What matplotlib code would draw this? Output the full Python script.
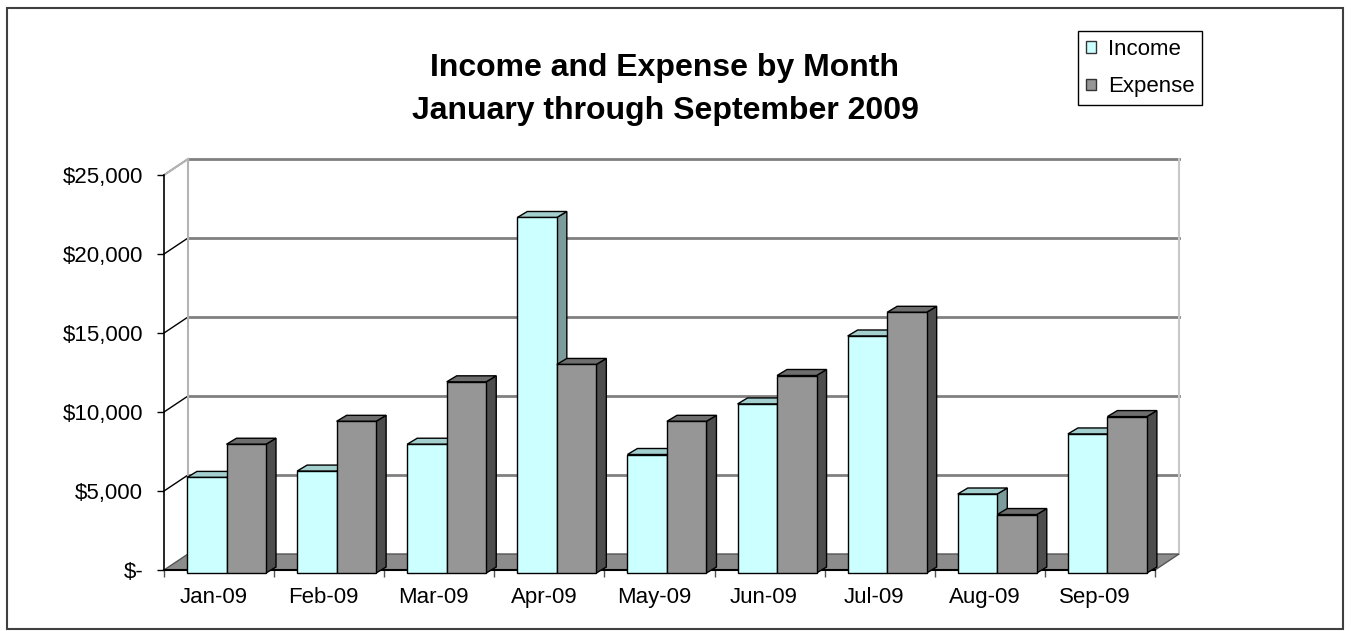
import numpy as np
import matplotlib
matplotlib.use("Agg")
import matplotlib.pyplot as plt
from matplotlib.patches import Polygon, Rectangle, Patch

months = ["Jan-09", "Feb-09", "Mar-09", "Apr-09", "May-09", "Jun-09", "Jul-09", "Aug-09", "Sep-09"]
income = [6050, 6450, 8150, 22500, 7500, 10700, 15000, 5000, 8800]
expense = [8150, 9600, 12100, 13200, 9600, 12500, 16500, 3700, 9900]
yticks = [0, 5000, 10000, 15000, 20000, 25000]
ytick_labels = ["$-", "$5,000", "$10,000", "$15,000", "$20,000", "$25,000"]
series_names = ["Income", "Expense"]

# colours: front face, top, side
inc_cols = ("#CCFFFF", "#A3CFCF", "#7C9C9C")
exp_cols = ("#969696", "#6E6E6E", "#4D4D4D")

plt.rcParams['font.family'] = ['Liberation Sans', 'DejaVu Sans']

W, H = 1351, 631
fig = plt.figure(figsize=(W / 100, H / 100), dpi=100)

# front plane of the plot in pixels
x0, x1 = 164, 1155
y0, y1 = 570, 175
ax = fig.add_axes([x0 / W, 1 - y0 / H, (x1 - x0) / W, (y0 - y1) / H])
n = len(months)
ymax = 25000
ax.set_xlim(0, n)
ax.set_ylim(0, ymax)

px_x = (x1 - x0) / n          # pixels per category
px_y = (y0 - y1) / ymax       # pixels per unit

# depth of the walls and of the bars, in data units
wdx, wdy = 24 / px_x, 16 / px_y
bdx, bdy = 10 / px_x, 6 / px_y
boff = 23 / px_x              # bar start inside a category
bw = 39.5 / px_x              # bar width
bbase = -3 / px_y             # bars sit a little behind the front edge

# back wall gridlines + side wall lines
for v in yticks[1:]:
    ax.plot([wdx, n + wdx], [v + wdy, v + wdy], color="#808080", lw=2, clip_on=False, zorder=1)
    ax.plot([0, wdx], [v, v + wdy], color="black", lw=1, clip_on=False, zorder=1)
ax.plot([wdx, wdx], [wdy, ymax + wdy], color="#B4B4B4", lw=1.5, clip_on=False, zorder=1)
ax.plot([n + wdx, n + wdx], [wdy, ymax + wdy], color="#C8C8C8", lw=1.5, clip_on=False, zorder=1)
ax.plot([0, wdx], [ymax, ymax + wdy], color="#B4B4B4", lw=1.5, clip_on=False, zorder=1)

# floor
floor = Polygon([(0, 0), (n, 0), (n + wdx, wdy), (wdx, wdy)], closed=True,
                facecolor="#8C8C8C", edgecolor="#555555", lw=1, clip_on=False, zorder=2)
ax.add_patch(floor)
ax.plot([0, n], [0, 0], color="black", lw=1.5, clip_on=False, zorder=2)


def bar3d(left, val, cols):
    x_l, x_r = left, left + bw
    b, t = bbase, bbase + val
    front = Polygon([(x_l, b), (x_r, b), (x_r, t), (x_l, t)], closed=True,
                    facecolor=cols[0], edgecolor="black", lw=1, clip_on=False, zorder=3)
    top = Polygon([(x_l, t), (x_r, t), (x_r + bdx, t + bdy), (x_l + bdx, t + bdy)], closed=True,
                  facecolor=cols[1], edgecolor="black", lw=1, clip_on=False, zorder=3)
    side = Polygon([(x_r, b), (x_r + bdx, b + bdy), (x_r + bdx, t + bdy), (x_r, t)], closed=True,
                   facecolor=cols[2], edgecolor="black", lw=1, clip_on=False, zorder=3)
    for p in (side, top, front):
        ax.add_patch(p)


for i in range(n):
    bar3d(i + boff, income[i], inc_cols)
    bar3d(i + boff + bw, expense[i], exp_cols)

# axes styling
for s in ["top", "right", "bottom"]:
    ax.spines[s].set_visible(False)
ax.spines["left"].set_color("black")
ax.spines["left"].set_linewidth(1.2)
ax.set_yticks(yticks)
ax.set_yticklabels(ytick_labels, fontsize=16)
ax.tick_params(axis="y", length=5, width=1, pad=10)
ax.set_xticks(np.arange(n + 1))
ax.set_xticklabels([])
ax.set_xticks(np.arange(n) + 0.45, minor=True)
ax.set_xticklabels(months, minor=True, fontsize=16)
ax.tick_params(axis="x", which="major", length=5, width=1, color="#555555")
ax.tick_params(axis="x", which="minor", length=0, pad=12)
ax.set_facecolor("none")

# title
fig.text(665 / W, 1 - 68 / H, "Income and Expense by Month", ha="center", va="center",
         fontsize=23, fontweight="bold")
fig.text(665 / W, 1 - 111 / H, "January through September 2009", ha="center", va="center",
         fontsize=23, fontweight="bold")

# legend
handles = [Patch(facecolor=inc_cols[0], edgecolor="#333333", lw=1),
           Patch(facecolor=exp_cols[0], edgecolor="#333333", lw=1)]
leg = fig.legend(handles, series_names, loc="upper left",
                 bbox_to_anchor=(1078 / W, 1 - 31 / H), fontsize=16,
                 handlelength=0.45, handleheight=0.45, handletextpad=0.55,
                 borderpad=0.35, borderaxespad=0, labelspacing=0.75,
                 fancybox=False, framealpha=1)
leg.get_frame().set_edgecolor("black")
leg.get_frame().set_linewidth(1)

# outer border
fig.patches.append(Rectangle((7 / W, 2 / H), 1336 / W, 621 / H, transform=fig.transFigure,
                             fill=False, edgecolor="#404040", lw=1.5))

fig.savefig("out.png", dpi=100)
